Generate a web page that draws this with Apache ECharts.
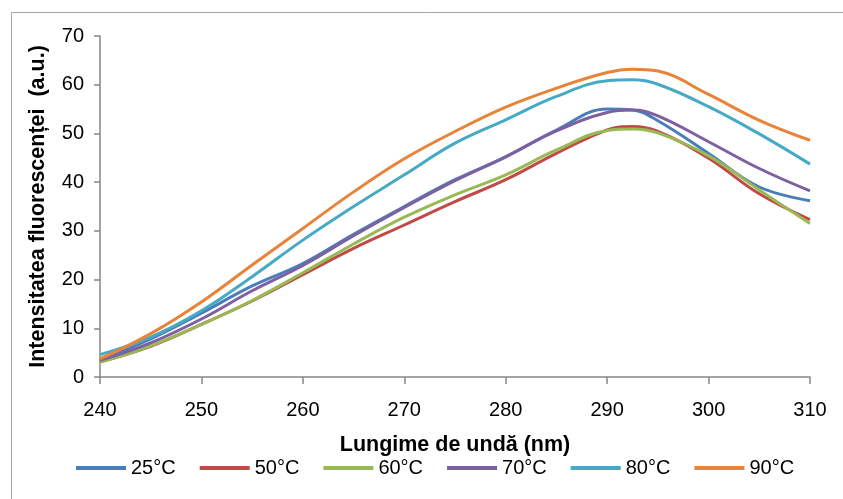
<!DOCTYPE html>
<html>
<head>
<meta charset="utf-8">
<script src="https://cdn.jsdelivr.net/npm/echarts@6/dist/echarts.min.js"></script>
<style>
html,body{margin:0;padding:0;background:#fff;}
#c{width:843px;height:499px;}
</style>
</head>
<body>
<div id="c"></div>
<script>
const wavelengths = [240,245,250,255,260,265,270,275,280,285,290,292.5,295,300,305,310];
const seriesNames = ['25°C','50°C','60°C','70°C','80°C','90°C'];
const s25 = [3.5, 7.8, 13.1, 18.7, 23.3, 29.3, 35.0, 40.5, 45.2, 50.7, 55.0, 54.8, 52.6, 45.9, 39.0, 36.2];
const s50 = [3.1, 6.3, 10.8, 15.6, 21.0, 26.4, 31.2, 36.0, 40.5, 45.9, 50.7, 51.4, 50.4, 44.9, 37.6, 32.3];
const s60 = [3.0, 6.4, 10.8, 15.7, 21.4, 27.3, 32.8, 37.4, 41.5, 46.6, 50.6, 50.9, 50.1, 45.4, 38.4, 31.5];
const s70 = [3.4, 7.0, 11.9, 17.7, 22.9, 29.0, 34.8, 40.3, 45.2, 50.5, 54.3, 54.8, 53.6, 48.3, 42.8, 38.2];
const s80 = [4.6, 8.2, 13.6, 20.6, 28.1, 35.0, 41.5, 48.0, 52.8, 57.6, 60.8, 61.0, 60.1, 55.5, 49.9, 43.7];
const s90 = [3.7, 8.9, 15.4, 23.0, 30.5, 38.0, 44.8, 50.4, 55.4, 59.3, 62.5, 63.2, 62.8, 58.0, 52.7, 48.6];
const allSeries = [s25, s50, s60, s70, s80, s90];
const colors = ['#4A7EBB','#BE4B48','#98B954','#7D60A0','#46AAC5','#E8833A'];

const font = 'Liberation Sans, Arial, sans-serif';
const chart = echarts.init(document.getElementById('c'), null, {renderer:'canvas'});
chart.setOption({
  animation: false,
  backgroundColor: '#fff',
  graphic: [{
    type: 'rect', left: 9, top: 10, silent: true,
    shape: {width: 900, height: 600},
    style: {fill: 'none', stroke: '#a6a6a6', lineWidth: 1}
  }],
  grid: {left: 100, right: 33, top: 36, bottom: 122, containLabel: false},
  legend: {
    left: 76, top: 458, padding: 0,
    itemWidth: 50, itemHeight: 4, itemGap: 24,
    icon: 'rect',
    textStyle: {fontFamily: font, fontSize: 20, color: '#000'},
    data: seriesNames
  },
  xAxis: {
    type: 'value', min: 240, max: 310, interval: 10,
    name: 'Lungime de undă (nm)', nameLocation: 'middle', nameGap: 57,
    nameTextStyle: {fontFamily: font, fontSize: 21.5, fontWeight: 'bold', color: '#000'},
    axisLine: {show: true, lineStyle: {color: '#868686', width: 1.5}},
    axisTick: {show: true, length: 7, lineStyle: {color: '#868686', width: 1.5}},
    axisLabel: {fontFamily: font, fontSize: 20, color: '#000', margin: 23},
    splitLine: {show: false}
  },
  yAxis: {
    type: 'value', min: 0, max: 70, interval: 10,
    name: 'Intensitatea fluorescenței  (a.u.)', nameLocation: 'middle', nameGap: 51,
    nameTextStyle: {fontFamily: font, fontSize: 21.5, fontWeight: 'bold', color: '#000'},
    axisLine: {show: true, lineStyle: {color: '#868686', width: 1.5}},
    axisTick: {show: true, length: 6, lineStyle: {color: '#868686', width: 1.5}},
    axisLabel: {fontFamily: font, fontSize: 20, color: '#000', margin: 16},
    splitLine: {show: false}
  },
  series: seriesNames.map((n, i) => ({
    name: n, type: 'line', smooth: 0.4, showSymbol: false, symbol: 'none',
    color: colors[i],
    lineStyle: {width: 3, color: colors[i]},
    data: wavelengths.map((x, j) => [x, allSeries[i][j]])
  }))
});
</script>
</body>
</html>
